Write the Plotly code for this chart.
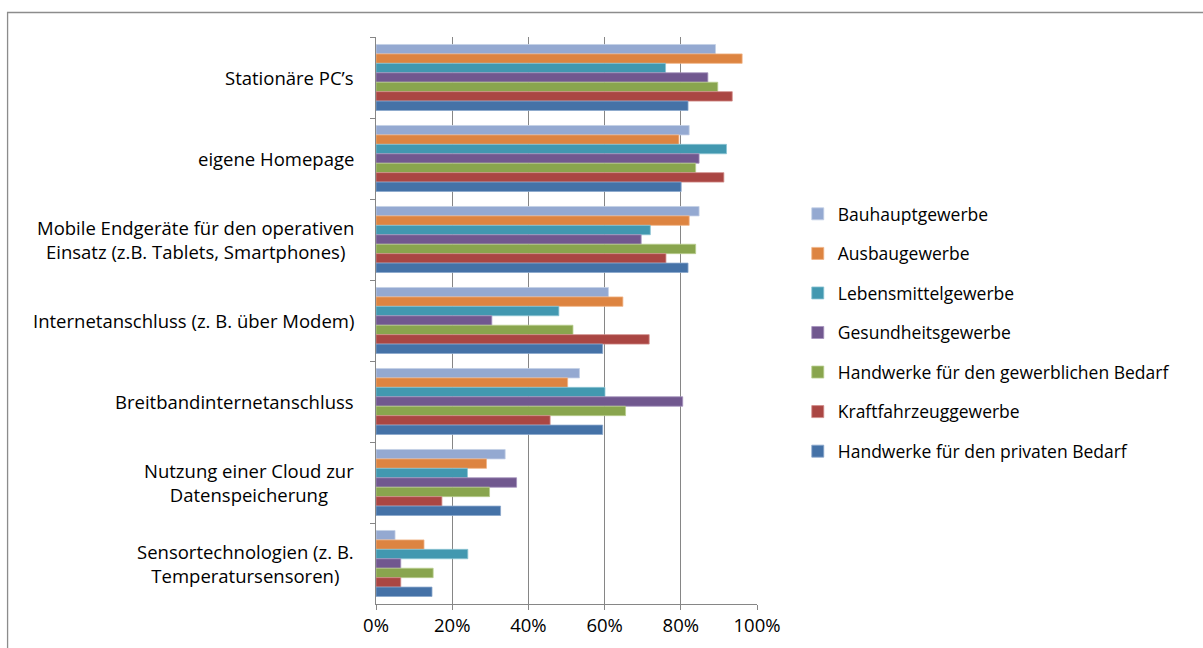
import plotly.graph_objects as go

# Categories from top to bottom
categories = [
    "Stationäre PC’s",
    "eigene Homepage",
    "Mobile Endgeräte für den operativen<br>Einsatz (z.B. Tablets, Smartphones)",
    "Internetanschluss (z. B. über Modem)",
    "Breitbandinternetanschluss",
    "Nutzung einer Cloud zur<br>Datenspeicherung",
    "Sensortechnologien (z. B.<br>Temperatursensoren)",
]

# Share of businesses (%) per trade group, same order as categories
bauhaupt = [89.1, 82.2, 84.8, 61.0, 53.4, 33.9, 5.0]
ausbau = [96.1, 79.5, 82.2, 64.8, 50.3, 29.0, 12.6]
lebensmittel = [76.0, 92.0, 72.0, 48.0, 60.1, 24.0, 24.1]
gesundheit = [87.1, 84.8, 69.6, 30.4, 80.5, 36.9, 6.5]
gewerblich = [89.7, 83.9, 83.9, 51.7, 65.5, 29.8, 15.0]
kfz = [93.5, 91.3, 76.1, 71.7, 45.7, 17.3, 6.5]
privat = [81.9, 80.1, 81.9, 59.5, 59.5, 32.7, 14.7]

series_names = [
    "Bauhauptgewerbe",
    "Ausbaugewerbe",
    "Lebensmittelgewerbe",
    "Gesundheitsgewerbe",
    "Handwerke für den gewerblichen Bedarf",
    "Kraftfahrzeuggewerbe",
    "Handwerke für den privaten Bedarf",
]
series_values = [bauhaupt, ausbau, lebensmittel, gesundheit, gewerblich, kfz, privat]
series_colors = ["#94A9D1", "#DD8441", "#4298B0", "#71588F", "#89A54E", "#AA4643", "#4572A7"]
series_edges = ["#C3CFE6", "#F0B385", "#8CC4D3", "#A592BD", "#B9CE8E", "#D08A88", "#8AA7CC"]

x_ticks = [0, 20, 40, 60, 80, 100]
x_ticktext = ["0%", "20%", "40%", "60%", "80%", "100%"]

FONT = "'Open Sans', Lato, sans-serif"
FSIZE = 18.5
LEGEND_FSIZE = 17.5
GRID = "#868686"

fig = go.Figure()
for name, vals, col, edge in zip(series_names, series_values, series_colors, series_edges):
    fig.add_trace(go.Bar(
        y=categories,
        x=vals,
        name=name,
        orientation="h",
        legendgroup=name,
        marker=dict(color=col, line=dict(color=edge, width=0.8)),
    ))

# Category labels, centred block text to the left of the axis
for cat in categories:
    fig.add_annotation(
        x=-0.052, xref="paper", xanchor="right",
        y=cat, yref="y", yanchor="middle",
        text=cat, align="center", showarrow=False,
        font=dict(family=FONT, size=FSIZE, color="#000000"),
    )

# Outer chart frame
fig.add_shape(
    type="rect", xref="paper", yref="paper",
    x0=-0.967, x1=2.3, y0=-0.2, y1=1.0432,
    line=dict(color="#8C8C8C", width=1.3), fillcolor="rgba(0,0,0,0)", layer="below",
)

fig.update_layout(
    width=1203, height=648,
    margin=dict(l=376, r=446, t=37, b=44, autoexpand=False),
    paper_bgcolor="white", plot_bgcolor="white",
    barmode="group", bargap=0.185, bargroupgap=0,
    font=dict(family=FONT, size=FSIZE, color="#000000"),
    showlegend=True,
    legend=dict(
        x=1.107, xanchor="left", y=0.478, yanchor="middle",
        traceorder="grouped", tracegroupgap=13.8,
        font=dict(family=FONT, size=LEGEND_FSIZE, color="#000000"),
        bgcolor="rgba(0,0,0,0)",
    ),
    xaxis=dict(
        range=[0, 100], tickvals=x_ticks, ticktext=x_ticktext,
        showgrid=True, gridcolor=GRID, gridwidth=1,
        zeroline=False, showline=True, linecolor=GRID, linewidth=1,
        ticks="outside", ticklen=5, tickcolor=GRID,
        tickfont=dict(family=FONT, size=FSIZE, color="#000000"),
        fixedrange=True,
    ),
    yaxis=dict(
        autorange="reversed", showticklabels=False,
        showgrid=False, zeroline=False,
        showline=True, linecolor=GRID, linewidth=1,
        ticks="outside", tickson="boundaries", ticklen=5, tickcolor=GRID,
        fixedrange=True,
    ),
)

fig.write_html("out.html")
